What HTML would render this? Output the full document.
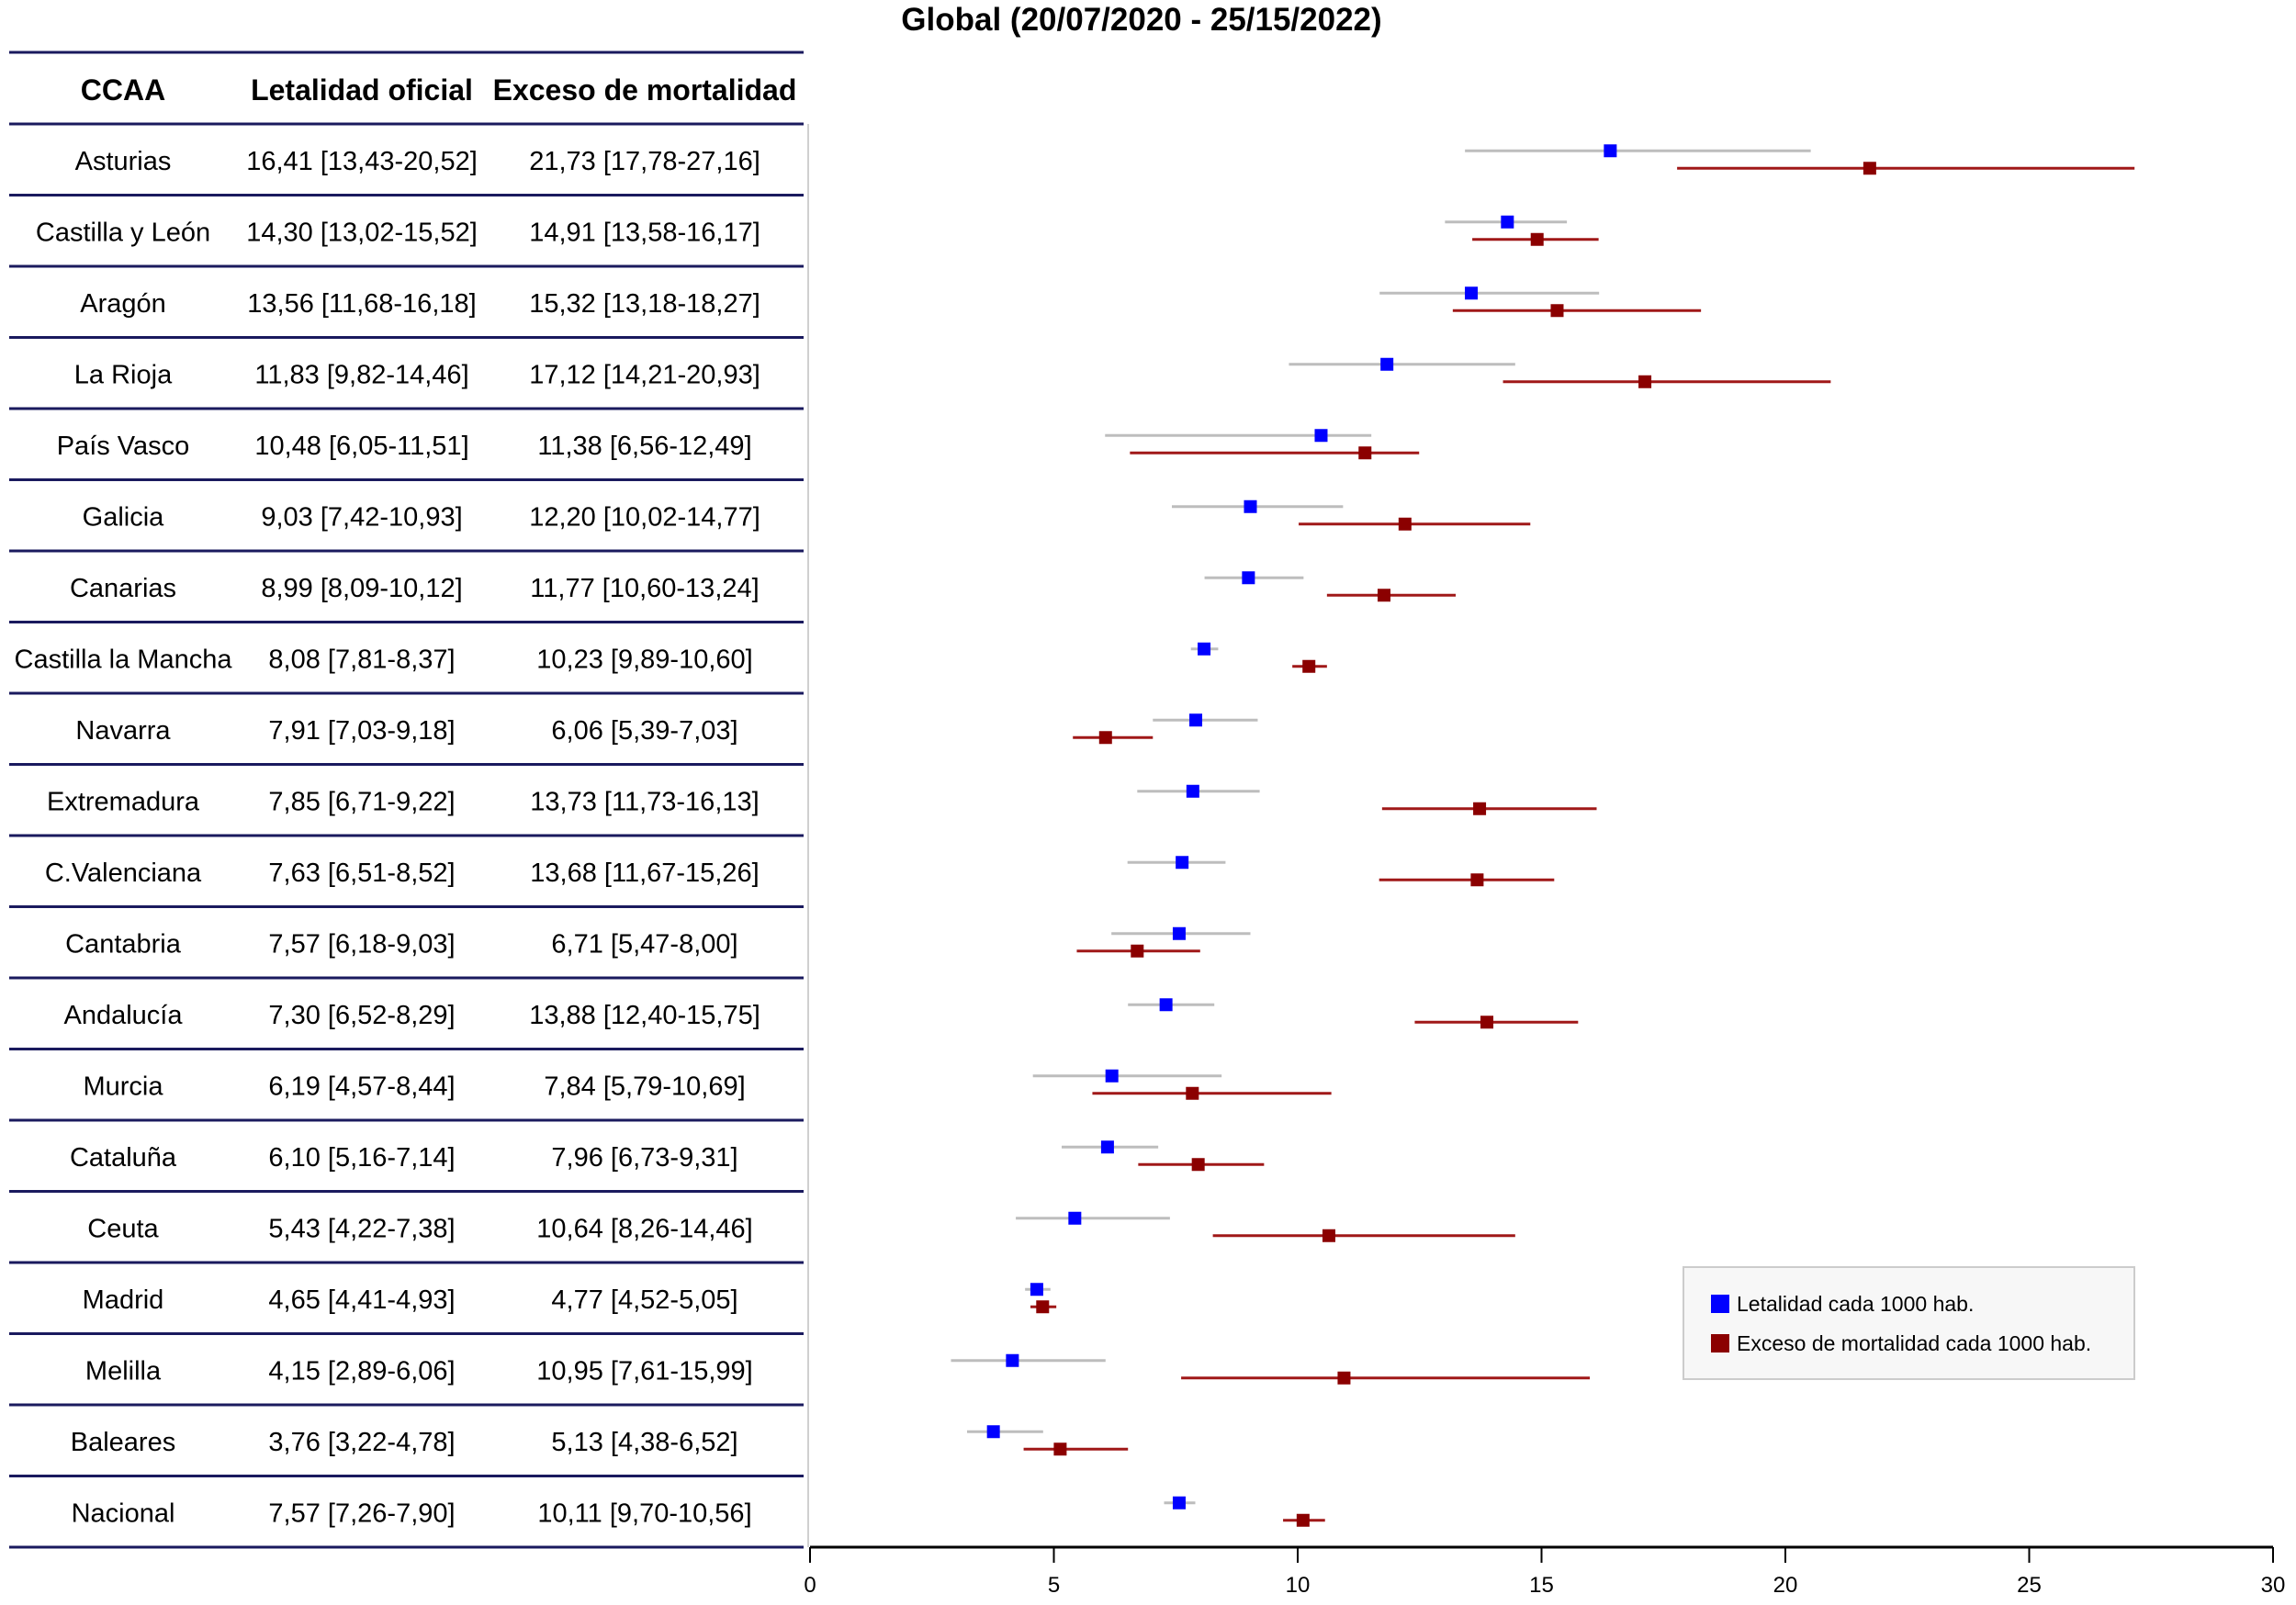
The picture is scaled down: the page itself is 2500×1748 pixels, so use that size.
<!DOCTYPE html>
<html><head><meta charset="utf-8"><style>
html,body{margin:0;padding:0;background:#fff;}
svg{display:block;font-family:"Liberation Sans",Arial,sans-serif;}
</style></head><body>
<svg id="chart" width="2500" height="1748" viewBox="0 0 2500 1748" xmlns="http://www.w3.org/2000/svg">
<text x="1243" y="33" text-anchor="middle" font-size="35" font-weight="bold">Global (20/07/2020 - 25/15/2022)</text>
<g id="table"></g>
<g id="plot"></g>
<g id="axis"></g>
<g>
<rect x="1833" y="1380" width="491" height="122" fill="#f7f7f7" stroke="#cccccc" stroke-width="2"/>
<rect x="1863" y="1410" width="20" height="20" fill="#0000ff"/>
<text x="1891" y="1428" font-size="23">Letalidad cada 1000 hab.</text>
<rect x="1863" y="1453" width="20" height="20" fill="#8b0000"/>
<text x="1891" y="1471" font-size="23">Exceso de mortalidad cada 1000 hab.</text>
</g>
</svg>
<script>
const regions=["Asturias","Castilla y León","Aragón","La Rioja","País Vasco","Galicia","Canarias","Castilla la Mancha","Navarra","Extremadura","C.Valenciana","Cantabria","Andalucía","Murcia","Cataluña","Ceuta","Madrid","Melilla","Baleares","Nacional"];
const letVal=[16.41,14.30,13.56,11.83,10.48,9.03,8.99,8.08,7.91,7.85,7.63,7.57,7.30,6.19,6.10,5.43,4.65,4.15,3.76,7.57];
const letLo=[13.43,13.02,11.68,9.82,6.05,7.42,8.09,7.81,7.03,6.71,6.51,6.18,6.52,4.57,5.16,4.22,4.41,2.89,3.22,7.26];
const letHi=[20.52,15.52,16.18,14.46,11.51,10.93,10.12,8.37,9.18,9.22,8.52,9.03,8.29,8.44,7.14,7.38,4.93,6.06,4.78,7.90];
const excVal=[21.73,14.91,15.32,17.12,11.38,12.20,11.77,10.23,6.06,13.73,13.68,6.71,13.88,7.84,7.96,10.64,4.77,10.95,5.13,10.11];
const excLo=[17.78,13.58,13.18,14.21,6.56,10.02,10.60,9.89,5.39,11.73,11.67,5.47,12.40,5.79,6.73,8.26,4.52,7.61,4.38,9.70];
const excHi=[27.16,16.17,18.27,20.93,12.49,14.77,13.24,10.60,7.03,16.13,15.26,8.00,15.75,10.69,9.31,14.46,5.05,15.99,6.52,10.56];
const xTicks=[0,5,10,15,20,25,30];

const NS="http://www.w3.org/2000/svg";
const X0=882,X1=2475,XMAX=30,TOP=135,RH=77.5;
function xs(v){return X0+(X1-X0)*v/XMAX;}
function rowY(i){return TOP+RH*i;}
function mk(parent,tag,attrs,txt){const e=document.createElementNS(NS,tag);for(const k in attrs)e.setAttribute(k,attrs[k]);if(txt!==undefined)e.textContent=txt;parent.appendChild(e);return e;}
function fmt(v){return v.toFixed(2).replace('.',',');}

const table=document.getElementById('table'),plot=document.getElementById('plot'),axis=document.getElementById('axis');
let l=mk(table,'line',{x1:10,x2:875,y1:57,y2:57,stroke:'#1a1a5e','stroke-width':3});


const hdr=[["CCAA",134],["Letalidad oficial",394],["Exceso de mortalidad",702]];
hdr.forEach(h=>{const t=mk(table,'text',{x:h[1],y:109,'text-anchor':'middle','font-size':32,'font-weight':'bold'},h[0]);

});
let vl=mk(table,'line',{x1:880,x2:880,y1:TOP,y2:rowY(20),stroke:'#d0d0d0','stroke-width':2});


regions.forEach((r,i)=>{
  const y=rowY(i),mid=y+RH/2;
  const rl=mk(table,'line',{x1:10,x2:875,y1:y,y2:y,stroke:'#1a1a5e','stroke-width':3});
  
  
  const t1=mk(table,'text',{x:134,y:mid+11,'text-anchor':'middle','font-size':29},r);
  
  
  const t2=mk(table,'text',{x:394,y:mid+11,'text-anchor':'middle','font-size':29},fmt(letVal[i])+' ['+fmt(letLo[i])+'-'+fmt(letHi[i])+']');
  
  
  const t3=mk(table,'text',{x:702,y:mid+11,'text-anchor':'middle','font-size':29},fmt(excVal[i])+' ['+fmt(excLo[i])+'-'+fmt(excHi[i])+']');
  
  
  const by=mid-9.5,ry=mid+9.5;
  const bl=mk(plot,'line',{x1:xs(letLo[i]),x2:xs(letHi[i]),y1:by,y2:by,stroke:'#bdbdbd','stroke-width':3});
  
  
  const rlin=mk(plot,'line',{x1:xs(excLo[i]),x2:xs(excHi[i]),y1:ry,y2:ry,stroke:'#a01818','stroke-width':3});
  
  
  const bp=mk(plot,'rect',{x:xs(letVal[i])-7,y:by-7,width:14,height:14,fill:'#0000ff'});
  
  
  const rp=mk(plot,'rect',{x:xs(excVal[i])-7,y:ry-7,width:14,height:14,fill:'#8b0000'});
  
  
});
const AY=rowY(20);
const bl2=mk(table,'line',{x1:10,x2:875,y1:AY,y2:AY,stroke:'#1a1a5e','stroke-width':3});


const al=mk(axis,'line',{x1:X0,x2:X1,y1:AY,y2:AY,stroke:'#000','stroke-width':3});


xTicks.forEach(v=>{
  const tk=mk(axis,'line',{x1:xs(v),x2:xs(v),y1:AY,y2:AY+17,stroke:'#000','stroke-width':2});
  
  
  const tl=mk(axis,'text',{x:xs(v),y:AY+49,'text-anchor':'middle','font-size':24},String(v));
  
  
});
</script>
</body></html>
